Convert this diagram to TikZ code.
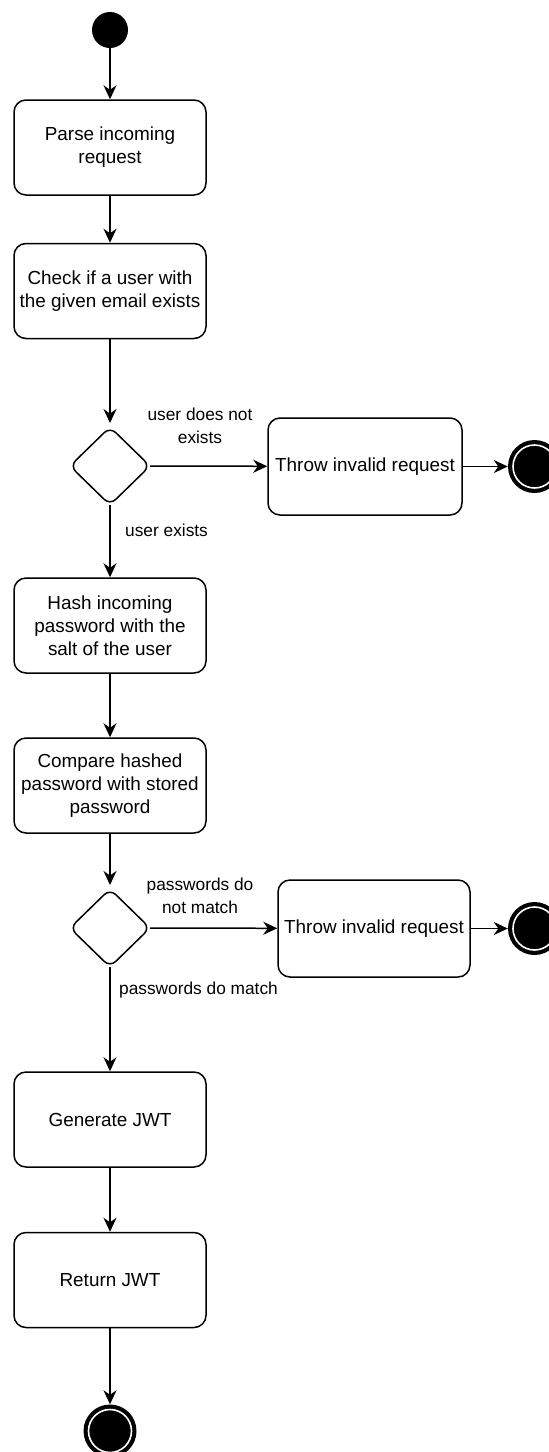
\documentclass[tikz,border=0pt]{standalone}
\usepackage{fontspec}
\setmainfont{Liberation Sans}
\usetikzlibrary{arrows.meta,shapes.geometric}

\tikzset{
  flow/.style={line width=1.5pt, -{Stealth[length=14pt,width=13pt,inset=4.5pt]}},
  action/.style={draw, line width=1.5pt, rounded corners=12pt, rectangle,
    minimum width=192pt, minimum height=95pt, inner sep=0pt, align=center,
    font=\fontsize{18.9}{23}\selectfont},
  decision/.style={draw, line width=1.5pt, diamond, rounded corners=8pt,
    minimum width=80pt, minimum height=78pt, inner sep=0pt, outer sep=0pt},
  startnode/.style={circle, fill=black, minimum size=36pt, inner sep=0pt},
  endnode/.style={circle, fill=black, minimum size=53pt, inner sep=0pt,
    path picture={\draw[white, line width=1.6pt]
      (path picture bounding box.center) circle (21.5pt);}},
  guard/.style={font=\fontsize{17.3}{22.5}\selectfont, align=center, inner sep=0pt}
}

\begin{document}
\begin{tikzpicture}[x=1pt, y=-1pt]
  \useasboundingbox (0,0) rectangle (549,1452);

  % main column
  \node[startnode] (start) at (110,30) {};
  \node[action] (parse) at (110,147.5) {Parse incoming\\request};
  \node[action] (check) at (110,291) {Check if a user with\\the given email exists};
  \node[decision] (d1) at (110,466) {};
  \node[action] (hash) at (110,625.5) {Hash incoming\\password with the\\salt of the user};
  \node[action] (cmp) at (110,785.5) {Compare hashed\\password with stored\\password};
  \node[decision] (d2) at (110,928) {};
  \node[action] (gen) at (110,1119.5) {Generate JWT};
  \node[action] (ret) at (110,1280) {Return JWT};
  \node[endnode] (fin) at (110,1431) {};

  % failure branches
  \node[action, minimum width=194pt, minimum height=97pt] (err1) at (365,466.5) {Throw invalid request};
  \node[endnode] (fin1) at (534.5,466.5) {};
  \node[action, minimum width=192pt, minimum height=97pt] (err2) at (374,928.5) {Throw invalid request};
  \node[endnode] (fin2) at (534.5,928.5) {};

  % connectors
  \draw[flow] (start) -- (parse);
  \draw[flow] (parse) -- (check);
  \draw[flow, shorten >=4pt] (check) -- (d1.north);
  \draw[flow] (d1.east) -- (err1);
  \draw[flow] (err1) -- (fin1);
  \draw[flow] (d1.south) -- (hash);
  \draw[flow] (hash) -- (cmp);
  \draw[flow, shorten >=4pt] (cmp) -- (d2.north);
  \draw[flow] (d2.east) -- (err2);
  \draw[flow] (err2) -- (fin2);
  \draw[flow] (d2.south) -- (gen);
  \draw[flow] (gen) -- (ret);
  \draw[flow] (ret) -- (fin);

  % guard labels
  \node[guard] (g1) at (200,426) {user does not\\exists};
  \node[guard, anchor=west] (g2) at (125,530) {user exists};
  \node[guard] (g3) at (200,896) {passwords do\\not match};
  \node[guard, anchor=west] (g4) at (119,990) {passwords do match};
\end{tikzpicture}
\end{document}
